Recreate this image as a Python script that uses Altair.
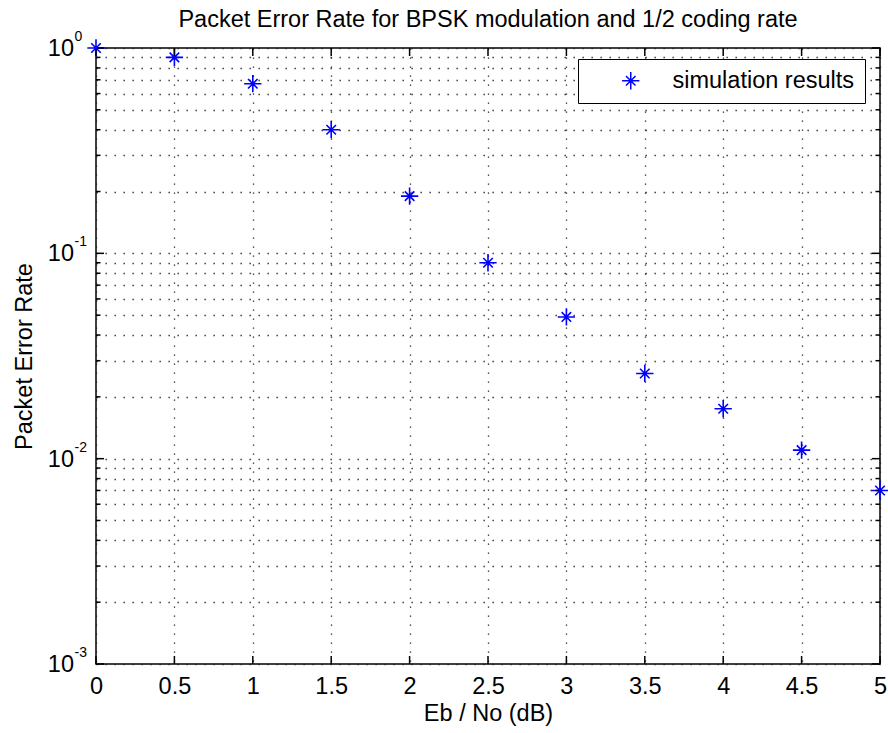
import altair as alt
import pandas as pd

# Simulated packet error rate vs. Eb/No
eb_no = [0, 0.5, 1, 1.5, 2, 2.5, 3, 3.5, 4, 4.5, 5]
per = [1.0, 0.9, 0.67, 0.4, 0.19, 0.09, 0.049, 0.026, 0.0175, 0.011, 0.007]
series_name = "simulation results"

# Axis ticks
x_ticks = [0, 0.5, 1, 1.5, 2, 2.5, 3, 3.5, 4, 4.5, 5]
y_decades = [1, 0.1, 0.01, 0.001]
y_exponents = ["0", "-1", "-2", "-3"]
y_minor = [round(m * 10.0 ** k, 6) for k in (-3, -2, -1) for m in range(2, 10)]

FONT = "Liberation Sans"
FS = 23.5
W, H = 784, 616
BLUE = "#0000ff"
STAR = "M-1,0L1,0M0,-1L0,1M-0.55,-0.55L0.55,0.55M-0.55,0.55L0.55,-0.55"

df = pd.DataFrame({"eb": eb_no, "per": per, "series": series_name})
df_dec = pd.DataFrame({"per": y_decades, "e": y_exponents, "base": "10"})
df_ymin = pd.DataFrame({"per": y_minor})
df_ymaj = pd.DataFrame({"per": y_decades})
df_x = pd.DataFrame({"eb": x_ticks})

x_scale = alt.Scale(domain=[0, 5], nice=False, zero=False)
y_scale = alt.Scale(type="log", domain=[0.001, 1], nice=False)

grid_style = dict(grid=True, gridDash=[1.3, 7.7], gridColor="#222222", gridWidth=1.3,
                  ticks=False, domain=False)

x_axis = alt.Axis(values=x_ticks, format="~g", title="Eb / No (dB)", labelFont=FONT,
                  labelFontSize=FS, labelColor="black", labelBaseline="middle",
                  labelPadding=22, tickSize=0, labelFlush=False,
                  titleFont=FONT, titleFontSize=FS, titleFontWeight="normal",
                  titleColor="black", titleBaseline="middle", titleY=49, **grid_style)
y_axis = alt.Axis(values=sorted(y_minor + y_decades), labels=False, tickSize=0,
                  title="Packet Error Rate", titleFont=FONT, titleFontSize=FS,
                  titleFontWeight="normal", titleColor="black", titleAngle=-90,
                  titleBaseline="alphabetic", titleAlign="center",
                  titleX=-65, titleY=H / 2, **grid_style)

X = alt.X("eb:Q", scale=x_scale, axis=x_axis)
Y = alt.Y("per:Q", scale=y_scale, axis=y_axis)

legend = alt.Legend(title=None, orient="none", legendX=482, legendY=11,
                    fillColor="white", strokeColor="black", padding=10,
                    symbolType=STAR, symbolSize=300, symbolStrokeWidth=1.5,
                    symbolOpacity=1, symbolOffset=31, labelOffset=30,
                    labelFont=FONT, labelFontSize=FS, labelColor="black", labelLimit=400)

points = alt.Chart(df).mark_point(shape=STAR, filled=False, size=300, strokeWidth=1.6,
                                  opacity=1).encode(
    x=X, y=Y,
    color=alt.Color("series:N", scale=alt.Scale(range=[BLUE]), legend=legend),
)

centers = alt.Chart(df).mark_circle(size=12, color=BLUE, opacity=1).encode(x=X, y=Y)

# Inward tick marks on all four sides of the box
tick_kw = dict(color="black", strokeWidth=1.5)
y_min_l = alt.Chart(df_ymin).mark_rule(**tick_kw).encode(
    y=Y, x=alt.value(0), x2=alt.value(4.5))
y_min_r = alt.Chart(df_ymin).mark_rule(**tick_kw).encode(
    y=Y, x=alt.value(W), x2=alt.value(W - 4.5))
y_maj_l = alt.Chart(df_ymaj).mark_rule(**tick_kw).encode(
    y=Y, x=alt.value(0), x2=alt.value(8))
y_maj_r = alt.Chart(df_ymaj).mark_rule(**tick_kw).encode(
    y=Y, x=alt.value(W), x2=alt.value(W - 8))
x_bot = alt.Chart(df_x).mark_rule(**tick_kw).encode(
    x=X, y=alt.value(H), y2=alt.value(H - 8))
x_top = alt.Chart(df_x).mark_rule(**tick_kw).encode(
    x=X, y=alt.value(0), y2=alt.value(8))

# Log-axis labels written as 10 with a raised exponent
dec_base = alt.Chart(df_dec).mark_text(font=FONT, fontSize=FS, align="right",
                                       baseline="middle", dy=1, color="black").encode(
    y=Y, x=alt.value(-22), text="base:N")
dec_exp = alt.Chart(df_dec).mark_text(font=FONT, fontSize=14, align="left",
                                      baseline="middle", dy=-11, color="black").encode(
    y=Y, x=alt.value(-21.5), text="e:N")

chart = alt.layer(
    points, y_min_l, y_min_r, y_maj_l, y_maj_r, x_bot, x_top, dec_base, dec_exp, centers
).properties(
    width=W, height=H,
    title=alt.TitleParams("Packet Error Rate for BPSK modulation and 1/2 coding rate",
                          font=FONT, fontSize=FS, fontWeight="normal", color="black",
                          anchor="middle", frame="group", baseline="alphabetic",
                          offset=4, dy=24),
    padding={"left": 96, "top": 48, "right": 8, "bottom": 69},
    autosize=alt.AutoSizeParams(type="none"),
).configure(background="white").configure_view(stroke="black", strokeWidth=1.5)

chart.save("out.html", embed_options={"renderer": "svg", "actions": False})
